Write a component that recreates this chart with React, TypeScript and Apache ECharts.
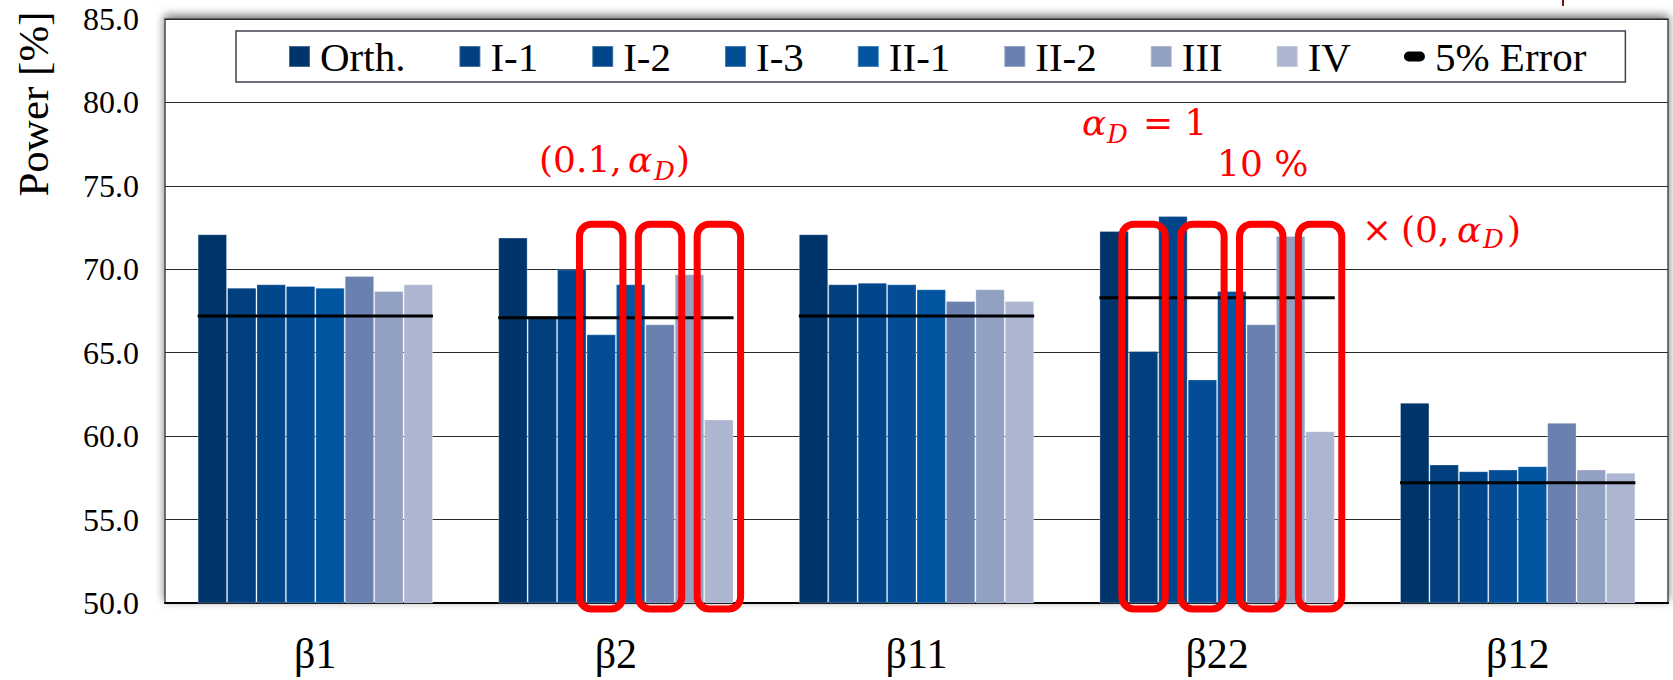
import React, { useEffect, useRef } from 'react';
import * as echarts from 'echarts';

// Categories and bar series
const categories = ['β1', 'β2', 'β11', 'β22', 'β12'];
const seriesNames = ['Orth.', 'I-1', 'I-2', 'I-3', 'II-1', 'II-2', 'III', 'IV'];
const orth = [72.1, 71.9, 72.1, 72.3, 62.0];
const i1 = [68.9, 67.2, 69.1, 65.1, 58.3];
const i2 = [69.1, 70.0, 69.2, 73.2, 57.9];
const i3 = [69.0, 66.1, 69.1, 63.4, 58.0];
const ii1 = [68.9, 69.1, 68.8, 68.7, 58.2];
const ii2 = [69.6, 66.7, 68.1, 66.7, 60.8];
const iii = [68.7, 69.7, 68.8, 72.0, 58.0];
const iv = [69.1, 61.0, 68.1, 60.3, 57.8];
// 5% error threshold per category
const errorLevel = [67.2, 67.1, 67.2, 68.3, 57.2];
const errorName = '5% Error';
// Y axis ticks
const yMin = 50;
const yMax = 85;
const yStep = 5;
// Highlighted bars: [category index, series index]
const highlighted = [
  [1, 3], [1, 5], [1, 7],
  [3, 1], [3, 3], [3, 5], [3, 7],
];

const seriesValues = [orth, i1, i2, i3, ii1, ii2, iii, iv];
const colors = ['#00356b', '#023f7e', '#01468a', '#024d96', '#0255a1', '#6a80af', '#92a0c2', '#adb6d0'];

const SERIF = 'Liberation Serif';
const MATH = 'DejaVu Serif';
const RED = '#ff0000';
const GAP = 0.217;
const BOX_TOP = 72.7;

const redText = (text: string, x: number, y: number, size = 36, italic = false) => ({
  type: 'text',
  x,
  y,
  silent: true,
  style: {
    text,
    fill: RED,
    fontFamily: MATH,
    fontSize: size,
    fontStyle: italic ? 'italic' : 'normal',
    align: 'left',
    verticalAlign: 'middle',
  },
});

export default function App() {
  const ref = useRef<HTMLDivElement>(null);

  useEffect(() => {
    if (!ref.current) return;
    const chart = echarts.init(ref.current, null, { renderer: 'svg' });

    const bars = seriesNames.map((name, k) => ({
      type: 'bar',
      name,
      data: seriesValues[k],
      barGap: '0%',
      barCategoryGap: (GAP * 100).toFixed(1) + '%',
      itemStyle: {
        color: colors[k],
        borderColor: 'rgba(255,255,255,0.28)',
        borderWidth: 1,
      },
      z: 2,
    }));

    const errorSeries = {
      type: 'custom',
      name: errorName,
      data: errorLevel.map((v, i) => [i, v]),
      encode: { x: 0, y: 1 },
      itemStyle: { color: '#000' },
      z: 3,
      renderItem: (_params: any, api: any) => {
        const p = api.coord([api.value(0), api.value(1)]);
        const band = api.size([1, 0])[0];
        const half = (band * (1 - GAP)) / 2;
        return {
          type: 'line',
          shape: { x1: p[0] - half, y1: p[1], x2: p[0] + half, y2: p[1] },
          style: { stroke: '#000', lineWidth: 3 },
        };
      },
    };

    const boxSeries = {
      type: 'custom',
      name: 'highlight',
      data: highlighted,
      encode: { x: 0 },
      z: 5,
      silent: true,
      renderItem: (_params: any, api: any) => {
        const cat = api.value(0);
        const idx = api.value(1);
        const base = api.coord([cat, yMin]);
        const band = api.size([1, 0])[0];
        const group = band * (1 - GAP);
        const bw = group / seriesNames.length;
        const cx = base[0] - group / 2 + (idx + 0.5) * bw;
        const top = api.coord([cat, BOX_TOP])[1];
        const bottom = base[1] + 6;
        return {
          type: 'rect',
          shape: { x: cx - bw / 2 - 7, y: top, width: bw + 14, height: bottom - top, r: 12 },
          style: { fill: 'none', stroke: RED, lineWidth: 7 },
        };
      },
    };

    const pill = 'path://M5,0 L16,0 A5,5 0 0 1 16,10 L5,10 A5,5 0 0 1 5,0 Z';

    chart.setOption({
      animation: false,
      backgroundColor: '#fff',
      grid: {
        left: 165,
        right: 5,
        top: 19,
        bottom: 77,
        show: true,
        backgroundColor: '#fff',
        borderColor: '#4a4a4a',
        borderWidth: 1.5,
        shadowColor: 'rgba(0,0,0,0.55)',
        shadowBlur: 10,
        shadowOffsetY: -3,
      },
      legend: {
        left: 236,
        top: 31,
        padding: [5, 39, 5, 52],
        itemGap: 53,
        itemWidth: 21,
        itemHeight: 21,
        borderColor: '#3d4350',
        borderWidth: 1.5,
        backgroundColor: '#fff',
        selectedMode: false,
        textStyle: { fontFamily: SERIF, fontSize: 41, color: '#000', padding: [0, 0, 0, 5] },
        data: [
          ...seriesNames.map((n) => ({ name: n, icon: 'rect' })),
          { name: errorName, icon: pill, itemStyle: { color: '#000' } },
        ],
      },
      xAxis: {
        type: 'category',
        data: categories,
        axisTick: { show: false },
        axisLine: { lineStyle: { color: '#000', width: 2 } },
        axisLabel: { fontFamily: SERIF, fontSize: 42, color: '#000', margin: 30 },
        splitLine: { show: false },
      },
      yAxis: {
        type: 'value',
        min: yMin,
        max: yMax,
        interval: yStep,
        axisLine: { show: false },
        axisTick: { show: false },
        axisLabel: {
          fontFamily: SERIF,
          fontSize: 32,
          color: '#000',
          margin: 26,
          formatter: (v: number) => v.toFixed(1),
        },
        splitLine: { lineStyle: { color: '#2a2a2a', width: 1 } },
      },
      series: [...bars, errorSeries, boxSeries],
      graphic: [
        {
          type: 'text',
          x: 33,
          y: 104,
          rotation: Math.PI / 2,
          silent: true,
          style: {
            text: 'Power [%]',
            fill: '#000',
            fontFamily: SERIF,
            fontSize: 43,
            align: 'center',
            verticalAlign: 'middle',
          },
        },
        // (0.1, αD)
        redText('(0.1,', 539, 159),
        redText('α', 628, 159, 36, true),
        redText('D', 654, 171, 26, true),
        redText(')', 676, 159),
        // αD = 1
        redText('α', 1082, 122, 36, true),
        redText('D', 1107, 134, 26, true),
        redText('= 1', 1143, 122),
        // 10 %
        redText('10 %', 1217, 163),
        // × (0, αD)
        redText('×', 1362, 229),
        redText('(0,', 1401, 229),
        redText('α', 1457, 229, 36, true),
        redText('D', 1483, 239, 26, true),
        redText(')', 1507, 229),
        {
          type: 'line',
          silent: true,
          shape: { x1: 1563, y1: 0, x2: 1563, y2: 6 },
          style: { stroke: '#7a1414', lineWidth: 2 },
        },
      ],
    });

    return () => chart.dispose();
  }, []);

  return (
    <div
      ref={ref}
      style={{ position: 'absolute', left: 0, top: 0, width: 1673, height: 680, background: '#fff' }}
    />
  );
}
